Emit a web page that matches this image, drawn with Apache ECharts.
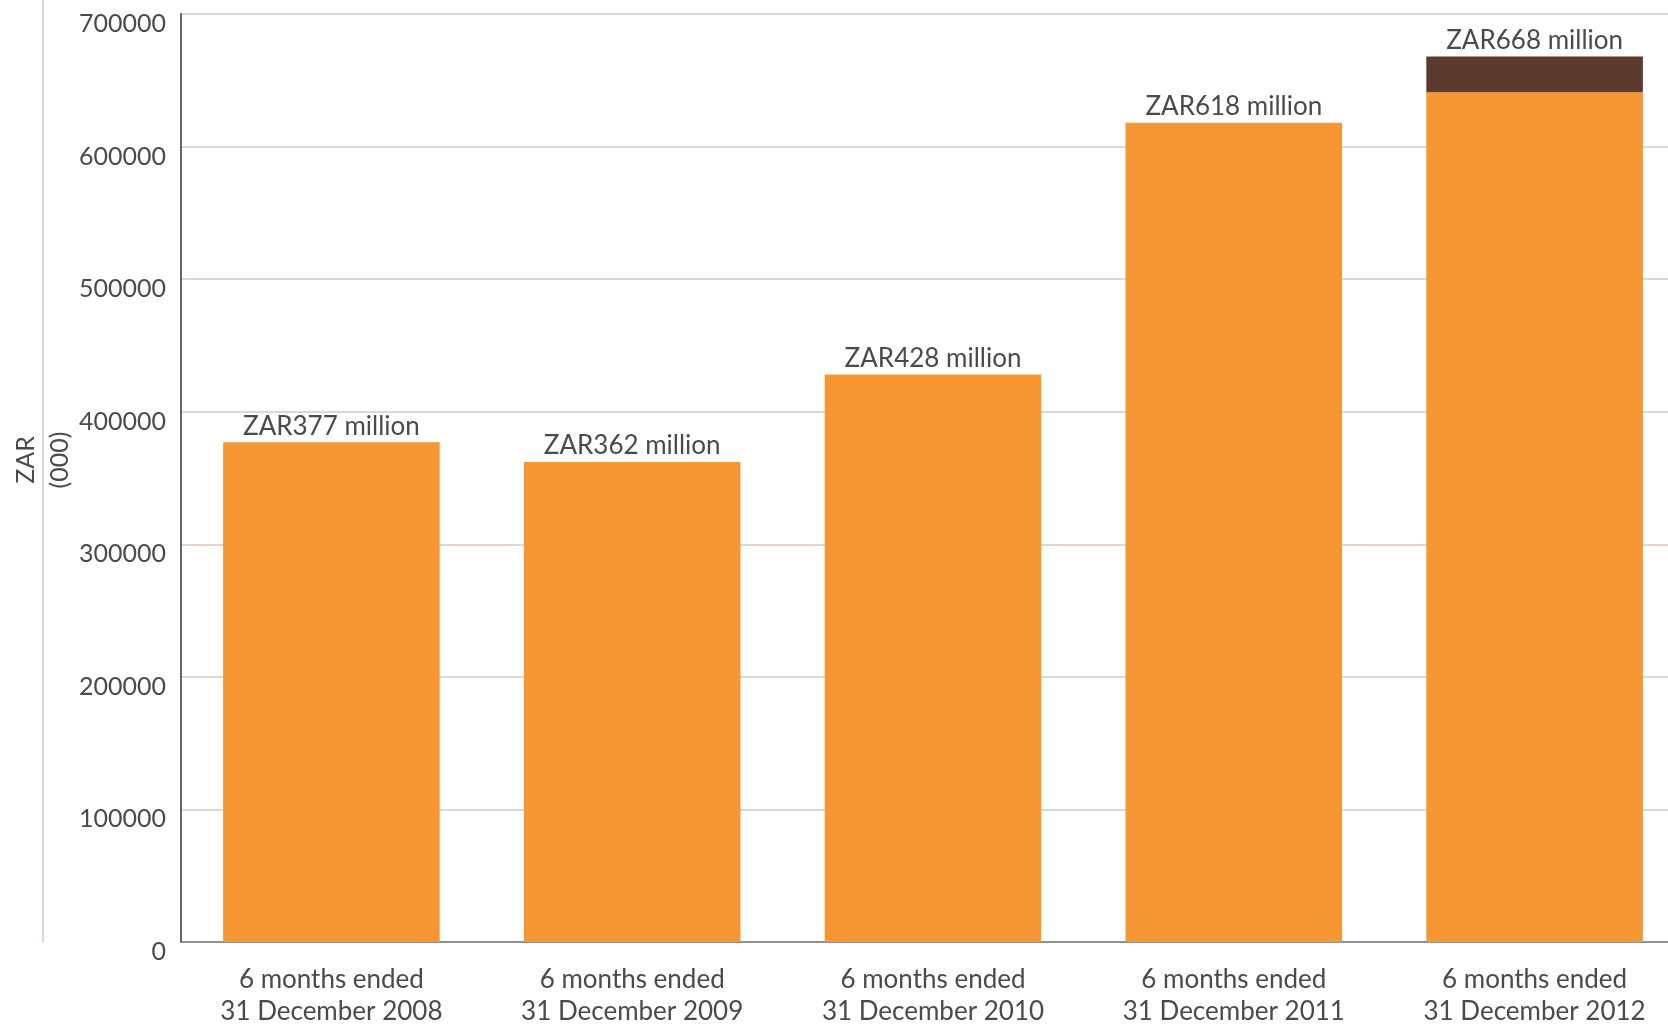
<!DOCTYPE html>
<html>
<head>
<meta charset="utf-8">
<script src="https://cdn.jsdelivr.net/npm/echarts@6/dist/echarts.min.js"></script>
<style>
  html, body { margin: 0; padding: 0; background: #ffffff; }
  #chart { width: 1668px; height: 1027px; }
</style>
</head>
<body>
<div id="chart"></div>
<script>
// ---- data ----
const categories = [
  '6 months ended\n31 December 2008',
  '6 months ended\n31 December 2009',
  '6 months ended\n31 December 2010',
  '6 months ended\n31 December 2011',
  '6 months ended\n31 December 2012'
];
const baseValues = [377000, 362000, 428000, 618000, 641000];   // orange part, ZAR (000)
const extraValues = [0, 0, 0, 0, 27000];                        // dark brown part, ZAR (000)
const totalLabelsMillions = [377, 362, 428, 618, 668];          // label text values
const yTicks = [0, 100000, 200000, 300000, 400000, 500000, 600000, 700000];

// ---- styles ----
const FONT = 'Lato';
const TEXT = '#4a4a4a';
const ORANGE = '#F79734';
const BROWN = '#5C3B2E';
const GRID = '#D9C9BE';

function labelText(i) { return 'ZAR' + totalLabelsMillions[i] + ' million'; }

const labelStyle = {
  show: true,
  position: 'top',
  distance: 3,
  fontFamily: FONT,
  fontSize: 26,
  color: TEXT,
  formatter: p => labelText(p.dataIndex)
};

const baseData = baseValues.map((v, i) => ({
  value: v,
  label: { show: extraValues[i] === 0 }
}));
const extraData = extraValues.map((v, i) => ({
  value: v === 0 ? null : v,
  label: { show: extraValues[i] !== 0 }
}));

const chart = echarts.init(document.getElementById('chart'), null, { renderer: 'canvas' });
chart.setOption({
  animation: false,
  backgroundColor: '#ffffff',
  grid: [
    { left: 181, top: 14, width: 1504, height: 928, outerBoundsMode: 'none', containLabel: false },
    { left: 181, top: -22, width: 1504, height: 964, outerBoundsMode: 'none', containLabel: false }
  ],
  xAxis: [
    {
      type: 'category',
      gridIndex: 0,
      data: categories,
      axisLine: { show: true, lineStyle: { color: '#7a7a7a', width: 1.5 } },
      axisTick: { show: false },
      axisLabel: {
        fontFamily: FONT, fontSize: 26, color: TEXT,
        lineHeight: 32, margin: 22, interval: 0
      },
      splitLine: { show: false }
    },
    {
      type: 'value', gridIndex: 1, min: 0, max: 1,
      axisLine: { show: false, onZero: false },
      axisTick: { show: false }, axisLabel: { show: false }, splitLine: { show: false }
    }
  ],
  yAxis: [
    {
      type: 'value',
      gridIndex: 0,
      min: yTicks[0],
      max: yTicks[yTicks.length - 1],
      interval: yTicks[1] - yTicks[0],
      axisLine: { show: true, lineStyle: { color: '#666666', width: 2 } },
      axisTick: { show: false },
      axisLabel: {
        fontFamily: FONT, fontSize: 25, color: TEXT,
        margin: 15, verticalAlign: 'top', lineHeight: 20,
        formatter: v => String(v)
      },
      splitLine: { show: true, lineStyle: { color: GRID, width: 1.5 } }
    },
    {
      type: 'value',
      gridIndex: 1,
      min: 0,
      max: 1,
      position: 'left',
      offset: 138,
      axisLine: { show: true, onZero: false, lineStyle: { color: GRID, width: 1.5 } },
      axisTick: { show: false },
      axisLabel: { show: false },
      splitLine: { show: false },
      name: 'ZAR\n(000)',
      nameLocation: 'middle',
      nameGap: 0,
      nameRotate: 90,
      nameTextStyle: {
        fontFamily: FONT, fontSize: 25, color: TEXT,
        lineHeight: 34, align: 'center', verticalAlign: 'middle',
        backgroundColor: '#ffffff', padding: [0, 7]
      }
    }
  ],
  series: [
    {
      type: 'bar',
      stack: 'total',
      xAxisIndex: 0,
      yAxisIndex: 0,
      barWidth: '72%',
      itemStyle: { color: ORANGE },
      label: labelStyle,
      data: baseData
    },
    {
      type: 'bar',
      stack: 'total',
      xAxisIndex: 0,
      yAxisIndex: 0,
      barWidth: '72%',
      itemStyle: { color: BROWN },
      label: labelStyle,
      data: extraData
    }
  ]
});
</script>
</body>
</html>
